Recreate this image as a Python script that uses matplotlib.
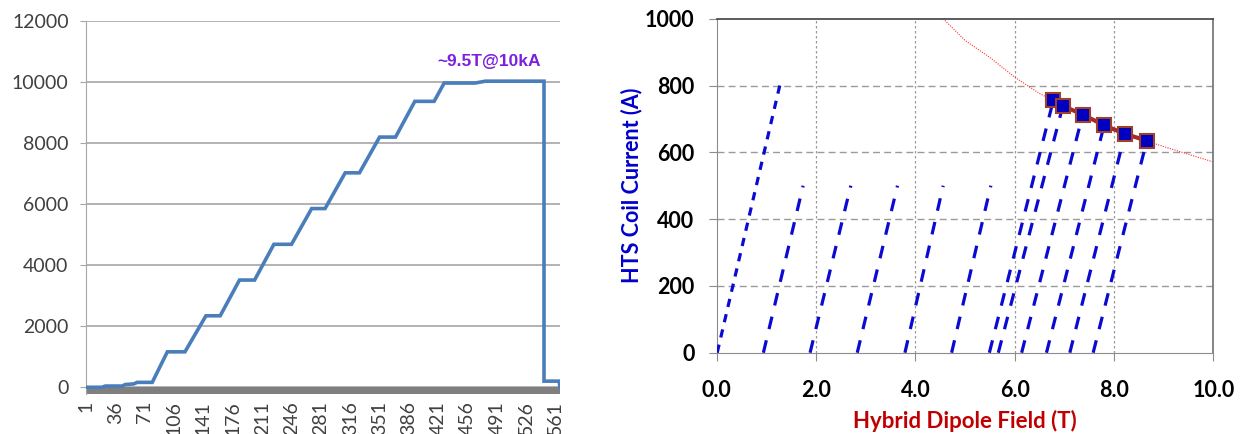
import matplotlib
matplotlib.use("Agg")
import matplotlib.pyplot as plt

plt.rcParams['font.family'] = ['Lato', 'DejaVu Sans']

# left panel: coil current ramp (A) vs sample index, breakpoints
ramp_idx = [1, 20, 24, 44, 48, 58, 62, 80, 98, 119, 144, 161, 184, 202, 225, 246,
            270, 286, 310, 327, 351, 370, 393, 416, 428, 465, 477, 547, 547, 565, 566]
ramp_amp = [0, 0, 40, 40, 90, 110, 160, 160, 1160, 1160, 2340, 2340, 3510, 3510, 4680, 4680,
            5850, 5850, 7020, 7020, 8190, 8190, 9360, 9360, 9960, 9960, 10020, 10020, 200, 200, 0]
left_xticks = [1, 36, 71, 106, 141, 176, 211, 246, 281, 316, 351, 386, 421, 456, 491, 526, 561]
left_yticks = [0, 2000, 4000, 6000, 8000, 10000, 12000]

# right panel: HTS coil ramps (start field -> end field/current)
ramp_B0 = [0.01, 0.94, 1.88, 2.83, 3.79, 4.73, 5.49, 5.67, 6.14, 6.64, 7.11, 7.58]
ramp_B1 = [1.27, 1.74, 2.70, 3.64, 4.56, 5.52, 6.78, 6.97, 7.37, 7.80, 8.22, 8.66]
ramp_I1 = [800, 500, 500, 500, 500, 500, 757, 739, 713, 681, 655, 635]
quench_B = [6.78, 6.97, 7.37, 7.80, 8.22, 8.66]
quench_I = [757, 739, 713, 681, 655, 635]
load_B = [4.56, 5.0, 5.5, 6.0, 6.5, 7.0, 7.5, 8.0, 8.5, 9.0, 9.5, 10.0]
load_I = [1000, 935, 884, 825, 776, 738, 702, 670, 642, 617, 594, 571]

fig = plt.figure(figsize=(12.46, 4.34), dpi=100)

# ---------- left ----------
ax1 = fig.add_axes([0.069, 0.0922, 0.3804, 0.8601])
ax1.axhspan(-220, 0, color='#7f7f7f', lw=0, zorder=1)
ax1.plot(ramp_idx, ramp_amp, color='#4a7ebb', lw=2.6, zorder=3, solid_joinstyle='miter')
ax1.set_xlim(1, 566)
ax1.set_ylim(-220, 12000)
ax1.set_yticks(left_yticks)
ax1.set_xticks(left_xticks)
ax1.set_xticklabels([str(t) for t in left_xticks], rotation=90)
ax1.grid(axis='y', color='#a6a6a6', lw=1.2)
ax1.set_axisbelow(True)
for s in ['top', 'right', 'bottom']:
    ax1.spines[s].set_visible(False)
ax1.spines['left'].set_color('#a6a6a6')
ax1.tick_params(axis='y', colors='#404040', labelsize=14, length=4.5, pad=8, color='#a6a6a6')
ax1.tick_params(axis='x', colors='#404040', labelsize=14, length=0, pad=5)
ax1.text(482, 10680, '~9.5T@10kA', color='#7b1fe0', fontsize=12.5, fontweight='bold',
         family=['Liberation Sans'], ha='center', va='center')

# ---------- right ----------
ax2 = fig.add_axes([0.5752, 0.1873, 0.3986, 0.7696])
ax2.set_xlim(0, 10)
ax2.set_ylim(0, 1000)
for b0, b1, i1 in zip(ramp_B0, ramp_B1, ramp_I1):
    dash = (2.6, 2.3) if i1 == 800 else (4.0, 3.6)
    ax2.plot([b0, b1], [0, i1], color='#0a0ad2', lw=2.3, dashes=dash, zorder=3)
ax2.plot(load_B, load_I, color='#ff3030', lw=0.8, ls=(0, (1, 1.2)), zorder=2)
ax2.plot(quench_B, quench_I, color='#a52a2a', lw=3.0, zorder=4)
ax2.plot(quench_B, quench_I, ls='none', marker='s', ms=10, mfc='#0000c0',
         mec='#a0402a', mew=1.5, zorder=5)

ax2.set_xticks([0, 2, 4, 6, 8, 10])
ax2.set_xticklabels(['0.0', '2.0', '4.0', '6.0', '8.0', '10.0'])
ax2.set_yticks([0, 200, 400, 600, 800, 1000])
for y in [200, 400, 600, 800]:
    ax2.axhline(y, color='#9a9a9a', lw=1.0, dashes=(5, 3), zorder=1)
for x in [2, 4, 6, 8]:
    ax2.axvline(x, color='#9a9a9a', lw=0.9, dashes=(2, 2), zorder=1)
ax2.spines['left'].set_color('#8c8c8c')
ax2.spines['bottom'].set_color('#8c8c8c')
ax2.spines['top'].set_color('#404040')
ax2.spines['right'].set_color('#707070')
ax2.spines['top'].set_linewidth(1.2)
ax2.spines['right'].set_linewidth(1.2)
ax2.tick_params(axis='both', direction='out', color='#8c8c8c', length=6, labelsize=15.5)
ax2.tick_params(axis='y', pad=10)
ax2.tick_params(axis='x', pad=14)
for lab in ax2.get_xticklabels() + ax2.get_yticklabels():
    lab.set_fontweight('bold')
ax2.set_ylabel('HTS Coil Current (A)', color='#0000cc', fontsize=15.5, fontweight='bold', labelpad=2)
ax2.set_xlabel('Hybrid Dipole Field (T)', color='#c00000', fontsize=16, fontweight='bold', labelpad=6)

fig.savefig('out.png', dpi=100)
